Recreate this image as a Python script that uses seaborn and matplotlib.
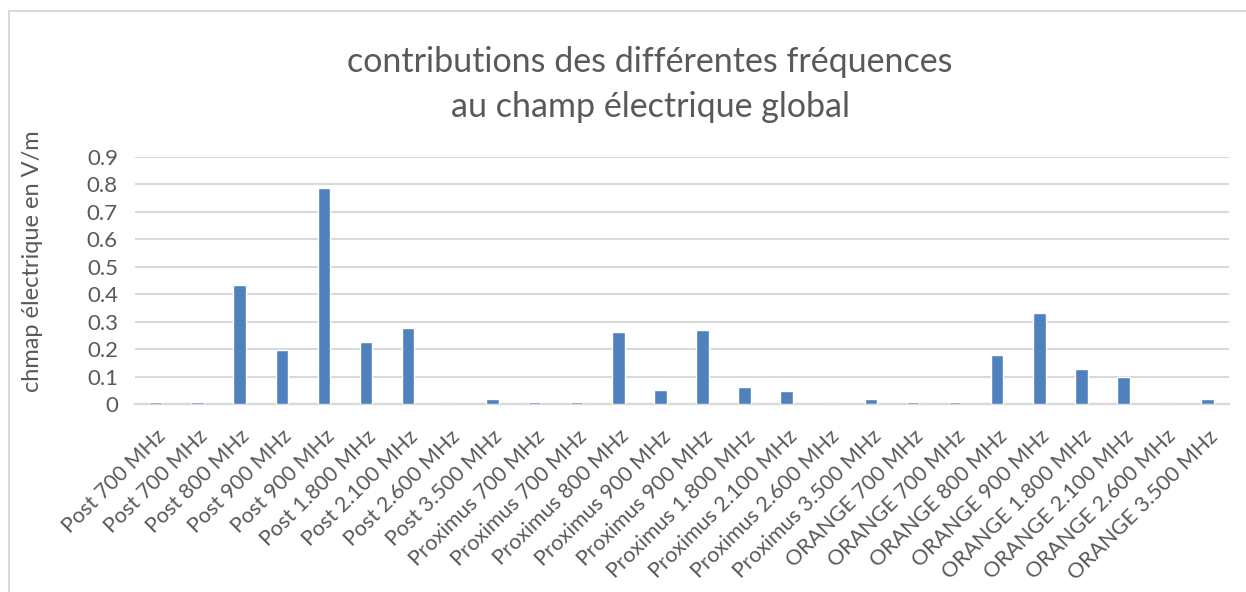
import matplotlib
matplotlib.use("Agg")
import matplotlib.pyplot as plt
import seaborn as sns
import pandas as pd
from matplotlib.patches import Rectangle

labels = [
    "Post 700 MHz", "Post 700 MHz", "Post 800 MHz", "Post 900 MHz", "Post 900 MHz",
    "Post 1.800 MHz", "Post 2.100 MHz", "Post 2.600 MHz", "Post 3.500 MHz",
    "Proximus 700 MHz", "Proximus 700 MHz", "Proximus 800 MHz", "Proximus 900 MHz",
    "Proximus 900 MHz", "Proximus 1.800 MHz", "Proximus 2.100 MHz", "Proximus 2.600 MHz",
    "Proximus 3.500 MHz",
    "ORANGE 700 MHz", "ORANGE 700 MHz", "ORANGE 800 MHz", "ORANGE 900 MHz",
    "ORANGE 1.800 MHz", "ORANGE 2.100 MHz", "ORANGE 2.600 MHz", "ORANGE 3.500 MHz",
]
values = [
    0.007, 0.007, 0.432, 0.195, 0.787, 0.226, 0.278, 0.0, 0.019,
    0.007, 0.007, 0.263, 0.052, 0.268, 0.062, 0.049, 0.0, 0.019,
    0.007, 0.007, 0.180, 0.333, 0.128, 0.099, 0.0, 0.019,
]
yticks = [0, 0.1, 0.2, 0.3, 0.4, 0.5, 0.6, 0.7, 0.8, 0.9]
ytick_labels = ["0", "0.1", "0.2", "0.3", "0.4", "0.5", "0.6", "0.7", "0.8", "0.9"]
title = "contributions des différentes fréquences\nau champ électrique global"
ylabel = "chmap électrique en V/m"

sns.set_theme(style="white")
plt.rcParams["font.family"] = ["Lato", "DejaVu Sans"]
TXT = "#595959"

df = pd.DataFrame({"pos": list(range(len(values))), "val": values})

fig = plt.figure(figsize=(12.46, 5.92), dpi=100)
ax = fig.add_axes([0.108, 0.3176, 0.878, 0.4174])

sns.barplot(data=df, x="pos", y="val", color="#4F81BD", saturation=1,
            width=0.3, ax=ax, zorder=3)

ax.set_ylim(0, 0.9)
ax.set_xlim(-0.5, len(values) - 0.5)
ax.set_yticks(yticks)
ax.set_yticklabels(ytick_labels)
ax.yaxis.grid(True, color="#D9D9D9", linewidth=1.5, zorder=0)
ax.set_axisbelow(True)
for s in ["top", "right", "left"]:
    ax.spines[s].set_visible(False)
ax.spines["bottom"].set_color("#D9D9D9")
ax.spines["bottom"].set_linewidth(1.7)

ax.set_xticks(range(len(labels)))
ax.set_xticklabels(labels, rotation=45, ha="right", rotation_mode="anchor",
                   color=TXT, fontsize=15.5)
ax.tick_params(axis="x", length=0, pad=16)
ax.tick_params(axis="y", length=0, pad=12, labelsize=16, labelcolor=TXT)
ax.set_xlabel("")
ax.set_ylabel(ylabel, color=TXT, fontsize=17)
ax.yaxis.set_label_coords(-0.084, 0.579)

fig.text(0.5217, 0.857, title, ha="center", va="center", fontsize=24.5,
         color=TXT, linespacing=1.5)

fig.patches.append(Rectangle((9 / 1246, -0.1), 1.2, 1.1 - 11 / 592,
                             transform=fig.transFigure, fill=False,
                             edgecolor="#D9D9D9", linewidth=1.5))

fig.savefig("out.png", dpi=100)
